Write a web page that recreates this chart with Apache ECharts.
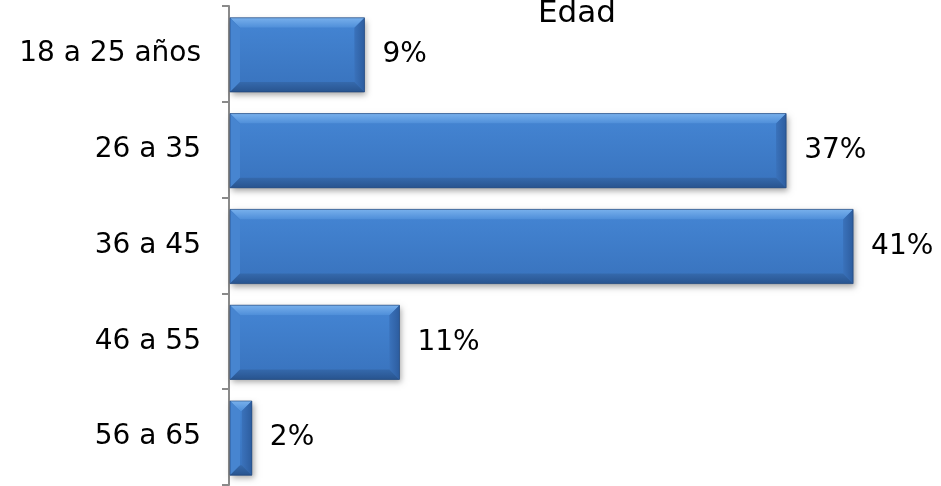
<!DOCTYPE html>
<html>
<head>
<meta charset="utf-8">
<script src="https://cdn.jsdelivr.net/npm/echarts@6/dist/echarts.min.js"></script>
<style>html,body{margin:0;padding:0;background:#fff}#c{width:941px;height:486px}</style>
</head>
<body>
<div id="c"></div>
<script>
var categories = ['18 a 25 años', '26 a 35', '36 a 45', '46 a 55', '56 a 65'];
var values = [8.9, 36.6, 41, 11.2, 1.5];
var labels = ['9%', '37%', '41%', '11%', '2%'];
var titleText = 'Edad';

var FONT = '"DejaVu Sans", Verdana, sans-serif';
var chart = echarts.init(document.getElementById('c'));

function renderBar(params, api) {
  var v = api.value(0), idx = api.value(1);
  var s = api.coord([0, idx]);
  var e = api.coord([v, idx]);
  var bandH = api.size([0, 1])[1];
  var h = bandH * 0.775;
  var x0 = s[0] + 1, x1 = e[0], yc = s[1] + 1;
  var y0 = yc - h / 2, y1 = yc + h / 2;
  var w = x1 - x0;
  var b = Math.min(10, w / 2, h / 2);
  function poly(pts, fill) {
    return { type: 'polygon', shape: { points: pts }, style: { fill: fill } };
  }
  return {
    type: 'group',
    children: [
      { type: 'rect', shape: { x: x0, y: y0, width: w, height: h },
        style: { fill: '#3a76c2', shadowBlur: 6, shadowOffsetX: 2, shadowOffsetY: 3, shadowColor: 'rgba(0,0,0,0.35)' } },
      { type: 'rect', shape: { x: x0 + b, y: y0 + b, width: Math.max(0, w - 2 * b), height: h - 2 * b },
        style: { fill: new echarts.graphic.LinearGradient(0, 0, 0, 1, [
          { offset: 0, color: '#4383d1' }, { offset: 1, color: '#3a75c0' }]) } },
      poly([[x0, y0], [x1, y0], [x1 - b, y0 + b], [x0 + b, y0 + b]],
        new echarts.graphic.LinearGradient(0, 0, 0, 1, [
          { offset: 0, color: '#78b0ec' }, { offset: 1, color: '#4e8ed9' }])),
      poly([[x0, y0], [x0 + b, y0 + b], [x0 + b, y1 - b], [x0, y1]], '#4785d0'),
      poly([[x1, y0], [x1, y1], [x1 - b, y1 - b], [x1 - b, y0 + b]],
        new echarts.graphic.LinearGradient(0, 0, 1, 0, [
          { offset: 0, color: '#3a72bb' }, { offset: 1, color: '#2d5d9f' }])),
      poly([[x0, y1], [x0 + b, y1 - b], [x1 - b, y1 - b], [x1, y1]],
        new echarts.graphic.LinearGradient(0, 0, 0, 1, [
          { offset: 0, color: '#3569ac' }, { offset: 1, color: '#28548f' }])),
      { type: 'rect', shape: { x: x0, y: y0, width: w, height: h },
        style: { fill: 'none', stroke: 'rgba(30,65,115,0.6)', lineWidth: 1 } },
      { type: 'text', style: { text: labels[idx], x: x1 + 18, y: yc, verticalAlign: 'middle', align: 'left',
        font: '28px ' + FONT, fill: '#000' } }
    ]
  };
}

chart.setOption({
  animation: false,
  backgroundColor: '#fff',
  title: {
    text: titleText, left: 533, top: -7, padding: 5,
    textStyle: { fontFamily: FONT, fontSize: 31, fontWeight: 'normal', color: '#000' }
  },
  grid: { left: 229, right: 27, top: 6, bottom: 1, containLabel: false },
  xAxis: { type: 'value', min: 0, max: 45, show: false },
  yAxis: {
    type: 'category', data: categories, inverse: true,
    axisLine: { show: true, lineStyle: { color: '#8a8a8a', width: 2 } },
    axisTick: { show: true, inside: false, length: 7, lineStyle: { color: '#8a8a8a', width: 2 } },
    axisLabel: { margin: 28, fontFamily: FONT, fontSize: 28, color: '#000' },
    splitLine: { show: false }
  },
  series: [{
    type: 'custom',
    renderItem: renderBar,
    encode: { x: 0, y: 1 },
    data: values.map(function (v, i) { return [v, i]; }),
    clip: false
  }]
});
</script>
</body>
</html>
